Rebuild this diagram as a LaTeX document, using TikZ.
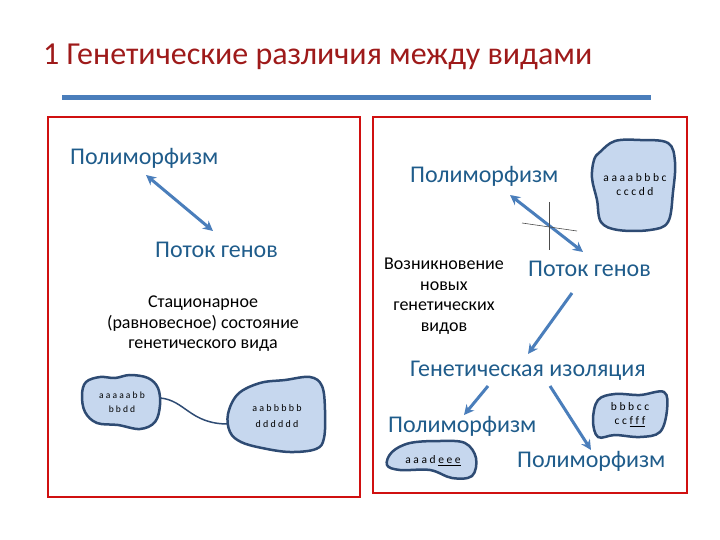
\documentclass[tikz,border=0pt]{standalone}
\usepackage{fontspec}
\setmainfont{Carlito}
\usetikzlibrary{arrows.meta}
\definecolor{titlered}{HTML}{9E1A1A}
\definecolor{txtblue}{HTML}{1F5C8B}
\definecolor{arrblue}{HTML}{4A7EBB}
\definecolor{blobfill}{HTML}{C6D7EE}
\definecolor{blobline}{HTML}{2E4B73}
\definecolor{framered}{HTML}{D01010}
\tikzset{
  bigtxt/.style={text=txtblue, font=\fontsize{24}{26}\selectfont, inner sep=0pt, anchor=base west},
  smalltxt/.style={text=black, font=\fontsize{18}{20.5}\selectfont, align=center, inner sep=0pt, anchor=north},
  gene/.style={text=black, font=\fontsize{11.5}{14}\selectfont, align=center, inner sep=0pt},
  genesmall/.style={gene, font=\fontsize{9.5}{13.5}\selectfont},
  blob/.style={draw=blobline, fill=blobfill, line width=2.5pt},
  frame/.style={draw=framered, line width=2pt},
  arr/.style={draw=arrblue, line width=3pt, -{Stealth[length=10pt,width=10pt]}},
  darr/.style={draw=arrblue, line width=3pt, {Stealth[length=10pt,width=10pt]}-{Stealth[length=10pt,width=10pt]}},
}
\begin{document}
\begin{tikzpicture}[x=1pt,y=-1pt]
\useasboundingbox (0,0) rectangle (720,540);
% title
\node[anchor=base west, inner sep=0pt, text=titlered, font=\fontsize{32}{34}\selectfont] (title) at (43,65) {1 Генетические различия между видами};
\draw[arrblue, line width=5pt] (62,98) -- (651,98);
% frames
\draw[frame] (48,117) rectangle (360,497);
\draw[frame] (373,117) rectangle (687,493);

% ---- left panel ----
\node[bigtxt] (lpoly) at (70,165) {Полиморфизм};
\node[bigtxt] (lflow) at (155,258) {Поток генов};
\coordinate (la1) at (146,175);
\coordinate (la2) at (213,231);
\draw[darr] (la1) -- (la2);
\node[smalltxt] (stat) at (203,296) {Стационарное\\(равновесное) состояние\\генетического вида};

\draw[blobline, line width=1.5pt] (160,398) .. controls (185,400) and (190,424) .. (228,424);
\draw[blob] plot[smooth cycle, tension=0.6] coordinates {(86,382) (100,377) (115,378) (130,375) (148,378) (158,388) (160,405) (155,422) (140,429) (118,425) (97,423) (85,412) (82,395)};
\node[genesmall] (g1) at (122,402) {a a a a a b b\\b b d d};
\draw[blob] plot[smooth cycle, tension=0.6] coordinates {(238,394) (260,383) (285,380) (310,377) (322,386) (325,410) (324,438) (316,449) (290,452) (262,448) (241,442) (230,432) (228,414)};
\node[genesmall, font=\fontsize{10}{16}\selectfont] (g2) at (277,416) {a a b b b b b\\d d d d d d};

% ---- right panel ----
\node[bigtxt] (rpoly) at (410,183) {Полиморфизм};
\draw[blob] plot[smooth cycle, tension=0.6] coordinates {(600,152) (615,141) (640,140) (668,143) (675,162) (673,192) (668,222) (650,230) (618,230) (601,222) (597,200) (592,178) (594,160)};
\node[gene] (g3) at (635,185) {a a a a b b b c\\c c c d d};
\coordinate (ra1) at (510,195);
\coordinate (ra2) at (583,252);
\draw[darr] (ra1) -- (ra2);
\draw[black!70, line width=0.6pt] (549,202) -- (549,250);
\draw[black!70, line width=0.6pt] (522,223) -- (577,231);

\node[smalltxt] (new) at (444,258) {Возникновение\\новых\\генетических\\видов};
\node[bigtxt] (rflow) at (528,276) {Поток генов};
\coordinate (rb1) at (572,293);
\coordinate (rb2) at (528,354);
\draw[arr] (rb1) -- (rb2);
\node[bigtxt] (iso) at (410,376) {Генетическая изоляция};
\coordinate (rc1) at (488,386);
\coordinate (rc2) at (464,415);
\draw[arr] (rc1) -- (rc2);
\coordinate (rd1) at (550,386);
\coordinate (rd2) at (591,450);
\draw[arr] (rd1) -- (rd2);
\node[bigtxt] (poly2) at (388,432) {Полиморфизм};
\node[bigtxt] (poly3) at (517,467) {Полиморфизм};

\draw[blob] plot[smooth cycle, tension=0.6] coordinates {(598,400) (615,394) (640,395) (664,392) (667,410) (660,432) (640,437) (615,435) (598,437) (593,420)};
\node[gene] (g4) at (630,415) {b b b c c\\c c \underline{f f f}};
\draw[blob] plot[smooth cycle, tension=0.6] coordinates {(392,452) (410,443) (440,441) (465,443) (476,458) (472,476) (452,478) (430,470) (400,470) (387,465)};
\node[gene] (g5) at (433,461) {a a a d \underline{e e e}};
\end{tikzpicture}
\end{document}
